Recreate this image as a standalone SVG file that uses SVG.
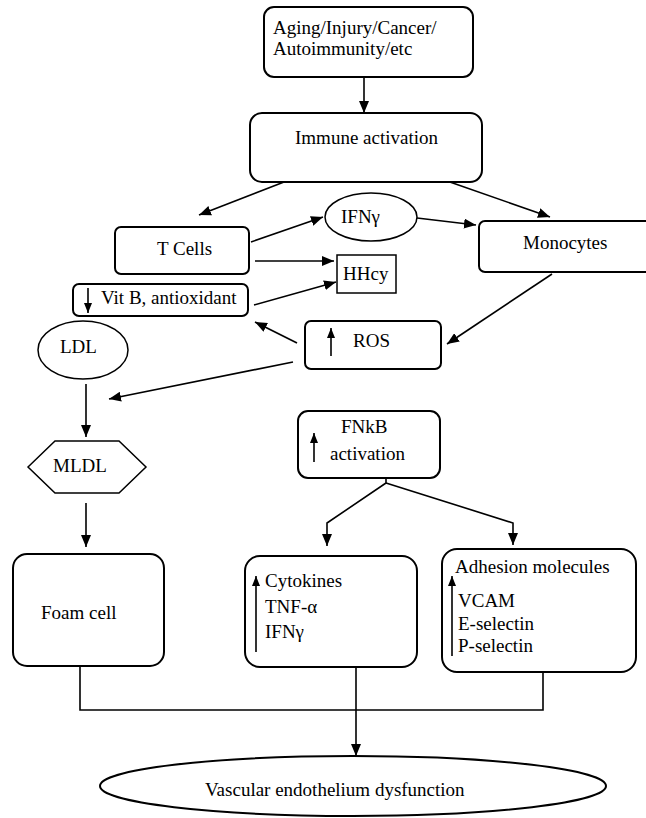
<svg xmlns="http://www.w3.org/2000/svg" width="646" height="818" viewBox="0 0 646 818">
<defs>
<style>
.box{fill:#fff;stroke:#000;stroke-width:2}
.thin{fill:#fff;stroke:#000;stroke-width:1.5}
.ln{fill:none;stroke:#000;stroke-width:1.6}
.t{font-family:"Liberation Serif","Times New Roman",serif;font-size:19px;fill:#000}
</style>
<marker id="ah" viewBox="0 0 12 10" refX="12" refY="5" markerWidth="12" markerHeight="10" markerUnits="userSpaceOnUse" orient="auto">
<path d="M0,0 L12,5 L0,10 z" fill="#000"/>
</marker>
<marker id="sm" viewBox="0 0 10 8" refX="10" refY="4" markerWidth="10" markerHeight="8" markerUnits="userSpaceOnUse" orient="auto">
<path d="M0,0 L10,4 L0,8 z" fill="#000"/>
</marker>
</defs>
<rect width="646" height="818" fill="#fff"/>

<g id="connectors">
<line class="ln" x1="364" y1="77" x2="364" y2="113" marker-end="url(#ah)"/>
<line class="ln" x1="284" y1="182" x2="199" y2="215" marker-end="url(#ah)"/>
<line class="ln" x1="447" y1="181" x2="550" y2="217" marker-end="url(#ah)"/>
<line class="ln" x1="251" y1="242" x2="323" y2="217" marker-end="url(#ah)"/>
<line class="ln" x1="417" y1="218" x2="476" y2="225" marker-end="url(#ah)"/>
<line class="ln" x1="255" y1="261" x2="334" y2="261" marker-end="url(#ah)"/>
<line class="ln" x1="254" y1="305" x2="336" y2="282" marker-end="url(#ah)"/>
<line class="ln" x1="552" y1="274" x2="447" y2="344" marker-end="url(#ah)"/>
<line class="ln" x1="297" y1="343" x2="255" y2="322" marker-end="url(#ah)"/>
<line class="ln" x1="293" y1="362" x2="109" y2="399" marker-end="url(#ah)"/>
<line class="ln" x1="86" y1="384" x2="86" y2="437" marker-end="url(#ah)"/>
<line class="ln" x1="86" y1="503" x2="86" y2="547" marker-end="url(#ah)"/>
<polyline class="ln" points="386,478 386,483 327,523 327,546" marker-end="url(#ah)"/>
<polyline class="ln" points="386,483 513,523 513,545" marker-end="url(#ah)"/>
<polyline class="ln" points="80,666 80,710 543,710 543,672"/>
<line class="ln" x1="356" y1="667" x2="356" y2="756" marker-end="url(#ah)"/>
</g>

<g id="n-cause">
<rect class="box" x="264" y="7" width="209" height="70" rx="10"/>
<text class="t" x="273" y="34">Aging/Injury/Cancer/</text>
<text class="t" x="273" y="55">Autoimmunity/etc</text>
</g>

<g id="n-immune">
<rect class="box" x="250" y="113" width="232" height="69" rx="12"/>
<text class="t" x="295" y="144">Immune activation</text>
</g>

<g id="n-tcells">
<rect class="box" x="115" y="227" width="134" height="47" rx="6"/>
<text class="t" x="157" y="255">T Cells</text>
</g>

<g id="n-ifng">
<ellipse class="thin" cx="371" cy="217" rx="46" ry="24"/>
<text class="t" x="341" y="223">IFNγ</text>
</g>

<g id="n-monocytes">
<rect class="box" x="479" y="221" width="180" height="51" rx="6"/>
<text class="t" x="523" y="249">Monocytes</text>
</g>

<g id="n-hhcy">
<rect class="thin" x="337" y="255" width="59" height="38"/>
<text class="t" x="343" y="280">HHcy</text>
</g>

<g id="n-vitb">
<rect class="box" x="73" y="284" width="175" height="32" rx="6"/>
<line class="ln" x1="88" y1="288" x2="88" y2="313" marker-end="url(#sm)"/>
<text class="t" x="101" y="304">Vit B, antioxidant</text>
</g>

<g id="n-ros">
<rect class="box" x="305" y="321" width="136" height="48" rx="6"/>
<line class="ln" x1="331" y1="356" x2="331" y2="328" marker-end="url(#sm)"/>
<text class="t" x="353" y="347">ROS</text>
</g>

<g id="n-ldl">
<ellipse class="thin" cx="83" cy="350" rx="45" ry="29"/>
<text class="t" x="60" y="353">LDL</text>
</g>

<g id="n-mldl">
<polygon class="thin" points="28,467 55,441 119,441 146,467 119,493 55,493"/>
<text class="t" x="53" y="472">MLDL</text>
</g>

<g id="n-foam">
<rect class="box" x="13" y="554" width="151" height="112" rx="14"/>
<text class="t" x="41" y="619">Foam cell</text>
</g>

<g id="n-fnkb">
<rect class="box" x="298" y="411" width="142" height="67" rx="10"/>
<line class="ln" x1="314" y1="462" x2="314" y2="433" marker-end="url(#sm)"/>
<text class="t" x="341" y="433">FNkB</text>
<text class="t" x="330" y="460">activation</text>
</g>

<g id="n-cytokines">
<rect class="box" x="245" y="556" width="172" height="111" rx="15"/>
<line class="ln" x1="256" y1="652" x2="256" y2="576" marker-end="url(#sm)"/>
<text class="t" x="265" y="587">Cytokines</text>
<text class="t" x="265" y="613">TNF-α</text>
<text class="t" x="265" y="638">IFNγ</text>
</g>

<g id="n-adhesion">
<rect class="box" x="442" y="549" width="194" height="123" rx="15"/>
<line class="ln" x1="452" y1="656" x2="452" y2="576" marker-end="url(#sm)"/>
<text class="t" x="455" y="573">Adhesion molecules</text>
<text class="t" x="458" y="607">VCAM</text>
<text class="t" x="458" y="630">E-selectin</text>
<text class="t" x="458" y="652">P-selectin</text>
</g>

<g id="n-vascular">
<ellipse class="box" cx="353" cy="786" rx="253" ry="30"/>
<text class="t" x="205" y="796">Vascular endothelium dysfunction</text>
</g>
</svg>
